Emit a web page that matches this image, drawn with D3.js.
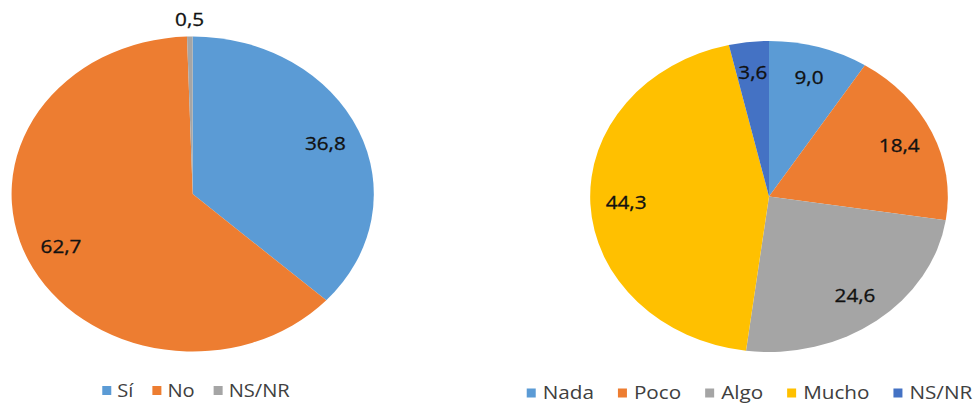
<!DOCTYPE html>
<html>
<head>
<meta charset="utf-8">
<script src="https://cdn.jsdelivr.net/npm/d3@7"></script>
<style>
  body { margin: 0; background: #ffffff; }
  svg { display: block; }
  text { font-family: "Open Sans", "Liberation Sans", sans-serif; }
</style>
</head>
<body>
<svg class="chart"></svg>
<script>
// Data.
var leftCategories = ["Sí", "No", "NS/NR"];
var leftValues = [36.8, 62.7, 0.5];
var leftLabels = ["36,8", "62,7", "0,5"];

var rightCategories = ["Nada", "Poco", "Algo", "Mucho", "NS/NR"];
var rightValues = [9.0, 18.4, 24.6, 44.3, 3.6];
var rightLabels = ["9,0", "18,4", "24,6", "44,3", "3,6"];

var leftColors = ["#5B9BD5", "#ED7D31", "#A5A5A5"];
var rightColors = ["#5B9BD5", "#ED7D31", "#A5A5A5", "#FFC000", "#4472C4"];

var width = 977, height = 404;
var stretch = 1.15; // the original picture is squeezed out horizontally

var svg = d3.select("svg.chart")
    .attr("width", width)
    .attr("height", height);

function drawPie(cfg) {
    var rows = cfg.categories.map(function (c, i) {
        return { cat: c, value: cfg.values[i], label: cfg.labels[i], color: cfg.colors[i] };
    });

    var arcs = d3.pie().sort(null).value(function (d) { return d.value; })(rows);
    var arc = d3.arc().innerRadius(0).outerRadius(cfg.r);

    var g = svg.append("g")
        .attr("transform", "translate(" + cfg.cx + "," + cfg.cy + ") scale(" + stretch + ",1)");

    g.selectAll("path.slice")
        .data(arcs)
        .enter().append("path")
        .attr("class", "slice")
        .attr("d", arc)
        .attr("fill", function (d) { return d.data.color; });

    g.selectAll("text.val")
        .data(arcs)
        .enter().append("text")
        .attr("class", "val")
        .attr("transform", function (d) {
            var k = (d.endAngle - d.startAngle) < 0.1 ? 1.105 : 0.8; // tiny slices get their label outside
            var a = (d.startAngle + d.endAngle) / 2;
            return "translate(" + (Math.sin(a) * cfg.r * k) + "," + (-Math.cos(a) * cfg.r * k) + ")";
        })
        .attr("text-anchor", "middle")
        .attr("dy", "0.36em")
        .attr("font-size", 18)
        .attr("fill", "#111111")
        .style("paint-order", "stroke")
        .attr("stroke", "#111111")
        .attr("stroke-width", 0.3)
        .text(function (d) { return d.data.label; });

    // legend, centred under the pie
    var lg = svg.append("g").attr("class", "legend");
    var items = lg.selectAll("g.item")
        .data(rows)
        .enter().append("g")
        .attr("class", "item");

    items.append("rect")
        .attr("width", cfg.box)
        .attr("height", cfg.box)
        .attr("y", -cfg.box / 2)
        .attr("fill", function (d) { return d.color; });

    var tg = items.append("g")
        .attr("transform", "translate(" + (cfg.box + cfg.pad) + ",0) scale(" + stretch + ",1)");
    tg.append("text")
        .attr("dy", "0.36em")
        .attr("font-size", cfg.fontSize)
        .attr("fill", "#404040")
        .text(function (d) { return d.cat; });

    var x = 0;
    var offsets = [];
    tg.select("text").each(function () {
        var w = this.getComputedTextLength() * stretch;
        offsets.push(x);
        x += cfg.box + cfg.pad + w + cfg.gap;
    });
    var total = x - cfg.gap;
    var x0 = cfg.legendCx - total / 2;
    items.attr("transform", function (d, i) {
        return "translate(" + (x0 + offsets[i]) + "," + cfg.legendY + ")";
    });
}

drawPie({
    categories: leftCategories, values: leftValues, labels: leftLabels, colors: leftColors,
    cx: 192.7, cy: 194, r: 157.5,
    legendCx: 196, legendY: 390.5, box: 9, pad: 6, gap: 19, fontSize: 17.5
});

drawPie({
    categories: rightCategories, values: rightValues, labels: rightLabels, colors: rightColors,
    cx: 769, cy: 196.5, r: 155.5,
    legendCx: 749.5, legendY: 393, box: 9, pad: 7, gap: 24, fontSize: 18
});
</script>
</body>
</html>
